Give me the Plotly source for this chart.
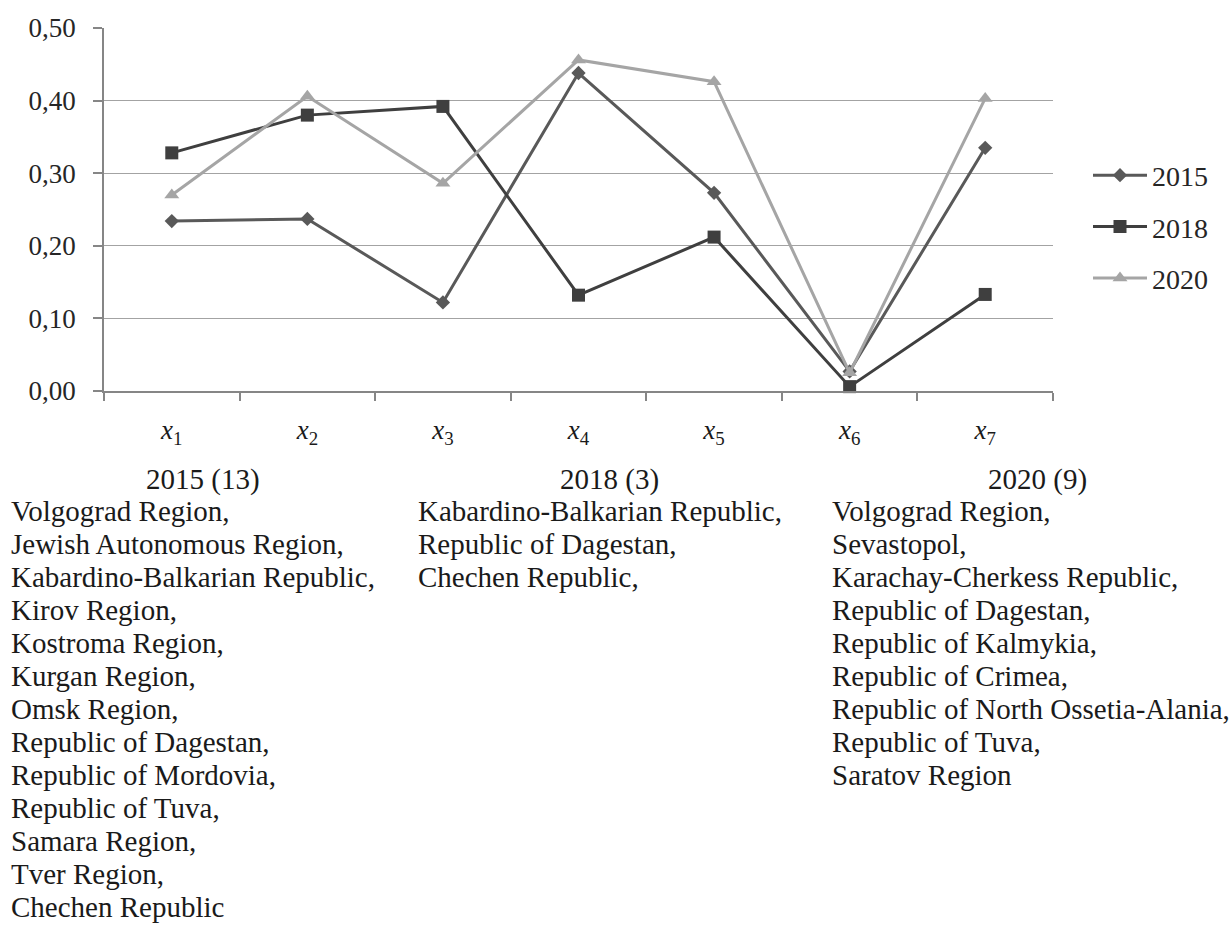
import plotly.graph_objects as go

# Indicators x1..x7 by year
categories = ["x1", "x2", "x3", "x4", "x5", "x6", "x7"]
tick_labels = ["<i>x</i><sub>%d</sub>" % i for i in range(1, 8)]

values_2015 = [0.234, 0.237, 0.122, 0.438, 0.273, 0.027, 0.335]
values_2018 = [0.328, 0.380, 0.392, 0.132, 0.212, 0.006, 0.133]
values_2020 = [0.270, 0.406, 0.286, 0.456, 0.426, 0.025, 0.403]

y_ticks = [0.0, 0.1, 0.2, 0.3, 0.4, 0.5]

# Region lists shown beneath the chart
header_2015 = "2015 (13)"
regions_2015 = [
    "Volgograd Region,", "Jewish Autonomous Region,", "Kabardino-Balkarian Republic,",
    "Kirov Region,", "Kostroma Region,", "Kurgan Region,", "Omsk Region,",
    "Republic of Dagestan,", "Republic of Mordovia,", "Republic of Tuva,",
    "Samara Region,", "Tver Region,", "Chechen Republic",
]
header_2018 = "2018 (3)"
regions_2018 = ["Kabardino-Balkarian Republic,", "Republic of Dagestan,", "Chechen Republic,"]
header_2020 = "2020 (9)"
regions_2020 = [
    "Volgograd Region,", "Sevastopol,", "Karachay-Cherkess Republic,",
    "Republic of Dagestan,", "Republic of Kalmykia,", "Republic of Crimea,",
    "Republic of North Ossetia-Alania,", "Republic of Tuva,", "Saratov Region",
]

W, H = 1231, 927
ML, MR, MT, MB = 104, 178, 28, 536
PW, PH = W - ML - MR, H - MT - MB
FONT = "Liberation Serif"


def px_x(px):
    return (px - ML) / PW


def px_y(py):
    return (H - MB - py) / PH


fig = go.Figure()
series = [
    ("2015", values_2015, "#595959", "diamond", 11),
    ("2018", values_2018, "#3f3f3f", "square", 13),
    ("2020", values_2020, "#a5a5a5", "triangle-up", 13),
]
for name, vals, color, symbol, size in series:
    fig.add_trace(go.Scatter(
        x=categories, y=vals, name=name, mode="lines+markers",
        line=dict(color=color, width=3),
        marker=dict(symbol=symbol, size=size, color=color, line=dict(width=0)),
        cliponaxis=False, legendgroup=name,
    ))

annotations = []


def add_block(header, header_cx, lines, left_px):
    annotations.append(dict(
        text=header, x=px_x(header_cx), y=px_y(479), xref="paper", yref="paper",
        xanchor="center", yanchor="middle", showarrow=False,
        font=dict(family=FONT, size=29, color="#1a1a1a"),
    ))
    for i, line in enumerate(lines):
        annotations.append(dict(
            text=line, x=px_x(left_px), y=px_y(511 + i * 33.0), xref="paper", yref="paper",
            xanchor="left", yanchor="middle", showarrow=False,
            font=dict(family=FONT, size=29, color="#1a1a1a"),
        ))


add_block(header_2015, 203, regions_2015, 9)
add_block(header_2018, 609, regions_2018, 416)
add_block(header_2020, 1037, regions_2020, 830)

fig.update_layout(
    width=W, height=H,
    margin=dict(l=ML, r=MR, t=MT, b=MB, pad=0),
    paper_bgcolor="white", plot_bgcolor="white",
    separators=",.",
    font=dict(family=FONT, size=27, color="#262626"),
    xaxis=dict(
        type="category", tickmode="array", tickvals=categories, ticktext=tick_labels,
        tickson="boundaries", ticks="outside", ticklen=8, tickcolor="#868686", tickwidth=1.5,
        showline=True, linecolor="#868686", linewidth=1.5, showgrid=False,
        range=[-0.5, 6.5], ticklabelstandoff=14,
        tickfont=dict(family=FONT, size=27, color="#1a1a1a"),
    ),
    yaxis=dict(
        range=[0, 0.5], tickvals=y_ticks, tickformat=".2f",
        ticks="outside", ticklen=9, tickcolor="#868686", tickwidth=1.5,
        showline=True, linecolor="#868686", linewidth=1.5,
        showgrid=True, gridcolor="#a3a3a3", gridwidth=1.2, zeroline=False,
        ticklabelstandoff=12,
        tickfont=dict(family=FONT, size=27, color="#262626"),
    ),
    legend=dict(
        x=px_x(1088), y=px_y(227), xanchor="left", yanchor="middle",
        font=dict(family=FONT, size=28, color="#262626"),
        tracegroupgap=12, itemwidth=54, bgcolor="rgba(0,0,0,0)",
    ),
    showlegend=True,
    annotations=annotations,
)

fig.write_html("out.html")
